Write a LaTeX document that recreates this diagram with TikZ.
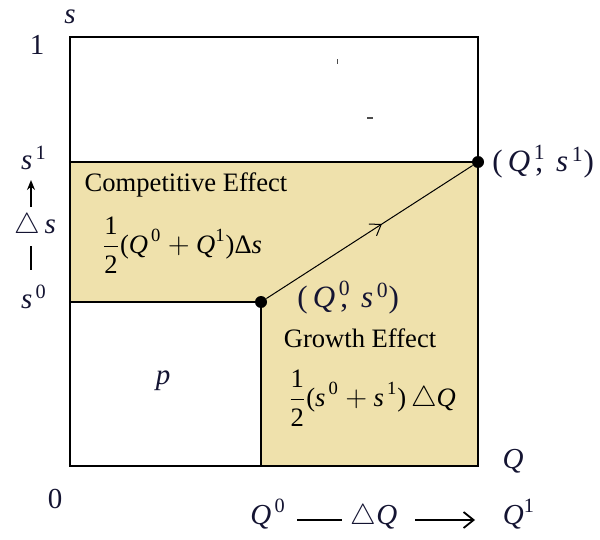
\documentclass[tikz,border=0pt]{standalone}
\usepackage{amsmath}
\usepackage{fontspec}
\setmainfont{Liberation Serif}
\usetikzlibrary{arrows.meta,decorations.markings}
\definecolor{fillc}{RGB}{239,225,172}
\definecolor{lab}{RGB}{20,20,50}
\newcommand{\vi}[1]{\textit{#1}}
\begin{document}
\begin{tikzpicture}[x=0.5pt,y=-0.5pt,
  txt/.style={font=\fontsize{13.3}{15}\selectfont, inner sep=0pt},
  lbl/.style={font=\fontsize{14.5}{16}\selectfont, inner sep=0pt, text=lab},
  plbl/.style={font=\fontsize{15.5}{17}\selectfont, inner sep=0pt, text=lab, anchor=west},
  dot/.style={circle, fill=black, inner sep=0pt, minimum size=6pt},
  ln/.style={line width=0.6pt}]
\useasboundingbox (0,0) rectangle (600,540);
% shaded area
\fill[fillc] (70,162) -- (478,162) -- (478,466) -- (261,466) -- (261,302) -- (70,302) -- cycle;
% frame
\draw[ln] (70,37) rectangle (478,466);
\draw[ln] (70,162) -- (478,162);
\draw[ln] (70,302) -- (261,302) -- (261,466);
% stray marks
\fill[black!70] (336.5,59) rectangle (338,64);
\fill[black!70] (367,117.5) rectangle (373,119);
% points and path
\node[dot] (p0) at (261,302) {};
\node[dot] (p1) at (478,162) {};
\draw[line width=0.5pt, postaction={decorate},
  decoration={markings, mark=at position 0.56 with {\arrow{Straight Barb[length=5pt,width=7pt]}}}]
  (p0) -- (p1);
% axis labels left
\node[lbl] (sax) at (70,17) {\vi{s}};
\node[lbl] (one) at (37,45) {1};
\node[lbl] (s1) at (34,158) {$\vi{s}^{\,\text{1}}$};
\node[lbl] (s0) at (34,297) {$\vi{s}^{\,\text{0}}$};
\node[lbl] (ds) at (35,226) {$\triangle\,\vi{s}$};
\coordinate (ua) at (31,207);
\coordinate (ub) at (31,180);
\draw[line width=0.8pt,-{Stealth[length=5pt,width=4pt]}] (ua) -- (ub);
\coordinate (ba) at (31,246);
\coordinate (bb) at (31,270);
\draw[line width=0.8pt] (ba) -- (bb);
\node[lbl] (zero) at (55,499) {0};
% bottom labels
\node[lbl] (Qax) at (513,461) {\vi{Q}};
\node[lbl] (Q0) at (268,514) {$\vi{Q}^{\,\text{0}}$};
\coordinate (da) at (297,520);
\coordinate (db) at (342,520);
\draw[line width=0.7pt] (da) -- (db);
\node[lbl] (dQ) at (374,517) {$\triangle\vi{Q}$};
\coordinate (ra) at (415,520);
\coordinate (rb) at (475,520);
\draw[line width=0.9pt,-{Straight Barb[length=5pt,width=8pt]}] (ra) -- (rb);
\node[lbl] (Q1) at (519,514) {$\vi{Q}^{\text{1}}$};
% point labels
\node[plbl] (L1) at (492,162) {(\,$\vi{Q}^{\,\text{1}}$\!\!,\, $\vi{s}^{\,\text{1}}$)};
\node[plbl] (L0) at (297,298) {(\,$\vi{Q}^{\,\text{0}}$\!\!,\, $\vi{s}^{\,\text{0}}$)};
% region labels
\node[txt] (ce) at (186,185) {Competitive Effect};
\node[txt] (cf) at (182,245) {$\displaystyle\frac{\text{1}}{\text{2}}\text{(}\vi{Q}^{\,\text{0}}+\vi{Q}^{\text{1}}\text{)}\text{Δ}\vi{s}$};
\node[txt] (ge) at (360,338) {Growth Effect};
\node[txt] (gf) at (372,398) {$\displaystyle\frac{\text{1}}{\text{2}}\text{(}\vi{s}^{\,\text{0}}+\vi{s}^{\,\text{1}}\text{)}\,\triangle\vi{Q}$};
\node[lbl] (p) at (163,381) {\vi{p}};
\end{tikzpicture}
\end{document}
